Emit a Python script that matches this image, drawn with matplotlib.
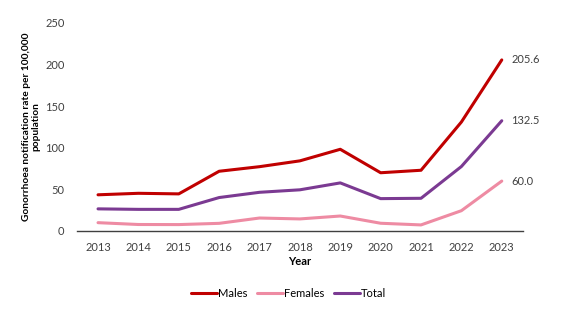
import numpy as np
import matplotlib.pyplot as plt

plt.rcParams['font.family'] = ['Lato', 'DejaVu Sans']

years = [2013, 2014, 2015, 2016, 2017, 2018, 2019, 2020, 2021, 2022, 2023]
males = [43.5, 45.3, 44.6, 71.8, 77.3, 84.3, 98.2, 70.0, 73.0, 131.0, 205.6]
females = [10.0, 7.8, 7.7, 9.2, 15.6, 14.5, 18.0, 9.3, 7.3, 24.4, 60.0]
total = [26.6, 26.0, 26.0, 40.2, 46.5, 49.5, 57.8, 38.9, 39.3, 77.5, 132.5]

series = [("Males", males, "#C00000"),
          ("Females", females, "#EE8BA3"),
          ("Total", total, "#7B3A92")]

fig = plt.figure(figsize=(5.77, 3.21), dpi=100)
ax = fig.add_axes([0.1335, 0.2804, 0.7725, 0.648])

x = np.arange(len(years))
for name, vals, col in series:
    ax.plot(x, vals, color=col, lw=2.2, label=name, solid_capstyle='round')
    ax.annotate(f"{vals[-1]:.1f}", (x[-1], vals[-1]), xytext=(7, 0),
                textcoords='offset points', va='center', ha='left',
                fontsize=8, color='#404040')

ax.set_xlim(-0.52, len(years) - 0.48)
ax.set_ylim(0, 250)
ax.set_xticks(x, [str(y) for y in years])
ax.set_yticks(range(0, 251, 50))
ax.tick_params(axis='both', length=0, labelsize=8, labelcolor='#404040')
ax.tick_params(axis='x', pad=8)
ax.tick_params(axis='y', pad=9)
for s in ['top', 'right', 'left']:
    ax.spines[s].set_visible(False)
ax.spines['bottom'].set_color('#404040')
ax.spines['bottom'].set_linewidth(1.0)

ax.set_xlabel("Year", fontsize=8, fontweight='bold', labelpad=2)
ax.set_ylabel("Gonorrhoea notification rate per 100,000\npopulation",
              fontsize=7.3, fontweight='bold', labelpad=3, linespacing=1.1)

fig.legend(loc='center', bbox_to_anchor=(0.5, 0.087), ncol=3, frameon=False,
           fontsize=8, handlelength=2.3, handletextpad=0.1, columnspacing=0.9)

fig.savefig("out.png", dpi=100)
